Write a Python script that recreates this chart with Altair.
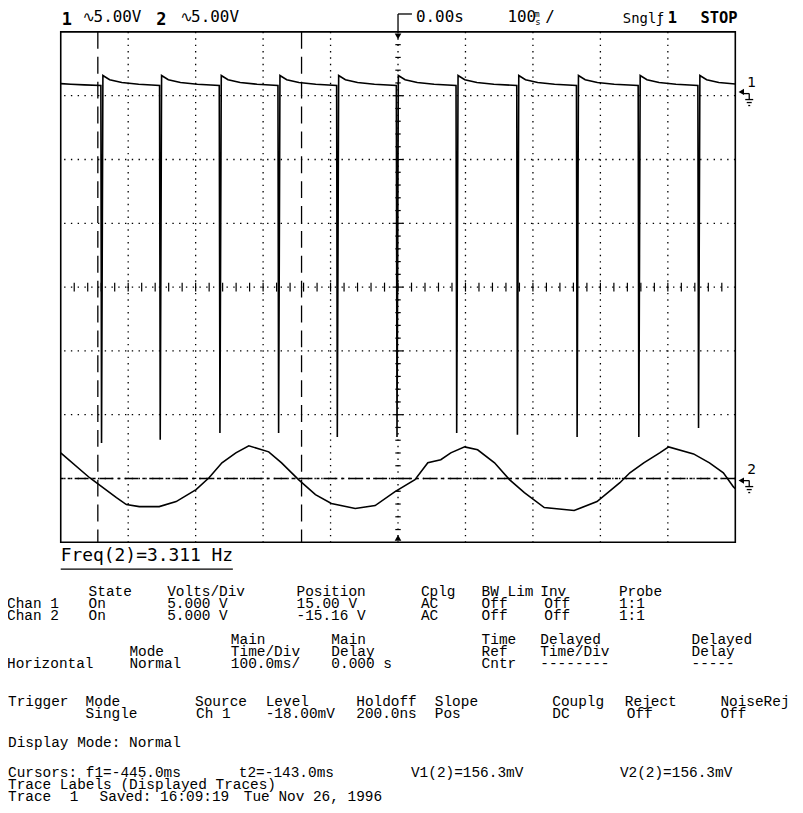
import altair as alt
import pandas as pd
import numpy as np

# ---------------- data (time in ms, screen volts; 5 V/div, 100 ms/div) ----------------
ch1_t = [-500, -485, -465, -440.5,
         -439.5, -437.5, -427.5, -409.5, -384.5, -353.5,
         -352.5, -350.5, -340.5, -322.5, -297.5, -265.0,
         -264.0, -262.0, -252.0, -234.0, -209.0, -178.0,
         -177.0, -175.0, -165.0, -147.0, -122.0, -91.0,
         -90.0, -88.0, -78.0, -60.0, -35.0, -2.5,
         -1.5, 0.5, 10.5, 28.5, 53.5, 86.0,
         87.0, 89.0, 99.0, 117.0, 142.0, 176.0,
         177.0, 179.0, 189.0, 207.0, 232.0, 264.5,
         265.5, 267.5, 277.5, 295.5, 320.5, 356.0,
         357.0, 359.0, 369.0, 387.0, 412.0, 444.5,
         445.5, 447.5, 457.5, 475.5, 500.0]
ch1_v = [15.95, 15.90, 15.85, 15.80,
         -12.21, 16.58, 16.25, 16.03, 15.90, 15.80,
         -11.97, 16.58, 16.25, 16.03, 15.90, 15.80,
         -11.43, 16.58, 16.25, 16.03, 15.90, 15.80,
         -11.43, 16.58, 16.25, 16.03, 15.90, 15.80,
         -11.74, 16.58, 16.25, 16.03, 15.90, 15.80,
         -11.74, 16.58, 16.25, 16.03, 15.90, 15.80,
         -11.43, 16.58, 16.25, 16.03, 15.90, 15.80,
         -11.58, 16.58, 16.25, 16.03, 15.90, 15.80,
         -11.74, 16.58, 16.25, 16.03, 15.90, 15.80,
         -11.74, 16.58, 16.25, 16.03, 15.90, 15.80,
         -11.04, 16.58, 16.25, 16.03, 15.92]

ch2_t = [-500, -457.2, -417.4, -402.7, -383.5, -354, -328.9, -299.4, -280.2, -261,
         -240.4, -221.2, -191.7, -172.6, -147.5, -122.4, -98.8, -63.4, -33.9, -4.4,
         25.1, 44.2, 63.4, 78.2, 98.8, 118, 143.1, 165.2, 187.3, 216.8,
         261.1, 295, 328.9, 343.7, 364.3, 387.9, 401.2, 438.1, 461.7, 482.3, 497, 500]
ch2_v = [-12.99, -14.94, -16.50, -17.04, -17.2, -17.2, -16.81, -15.87, -14.94, -13.77,
         -12.99, -12.44, -12.91, -13.77, -15.09, -16.26, -16.96, -17.35, -17.12, -16.03,
         -15.09, -13.77, -13.53, -12.99, -12.52, -12.75, -13.77, -15.09, -16.11, -17.28,
         -17.51, -16.81, -15.33, -14.55, -13.77, -12.99, -12.52, -13.07, -13.77, -14.55, -15.64, -15.8]

grid_t = [-400, -300, -200, -100, 0, 100, 200, 300, 400]
grid_v = [-15, -10, -5, 0, 5, 10, 15]
cursor_t = [-445.0, -143.0]
cursor_v = [-15.0]
ref_v = [15.3, -15.16]

W, H = 678, 513
OX, OY = 61, 30  # page position of plot area

xs = alt.Scale(domain=[-500, 500], nice=False, zero=False)
ys = alt.Scale(domain=[-20, 20], nice=False, zero=False)

def X(f):
    return alt.X(f, type="quantitative", scale=xs, axis=None)

def Y(f):
    return alt.Y(f, type="quantitative", scale=ys, axis=None)

layers = []

# grid
layers.append(alt.Chart(pd.DataFrame({"t": grid_t})).mark_rule(
    color="black", strokeWidth=1.3, strokeDash=[1.4, 5.0]).encode(x=X("t")))
layers.append(alt.Chart(pd.DataFrame({"v": grid_v})).mark_rule(
    color="black", strokeWidth=1.3, strokeDash=[1.4, 5.4]).encode(y=Y("v")))

# center axis ticks
xt = np.arange(-480, 481, 20)
layers.append(alt.Chart(pd.DataFrame({"t": xt, "a": -0.35, "b": 0.35})).mark_rule(
    color="black", strokeWidth=1.2).encode(x=X("t"), y=Y("a"), y2="b"))
yt = np.arange(-19, 20, 1)
half = np.where(yt % 5 == 0, 8.0, 4.0)
layers.append(alt.Chart(pd.DataFrame({"v": yt, "a": -half, "b": half})).mark_rule(
    color="black", strokeWidth=1.2).encode(y=Y("v"), x=X("a"), x2="b"))

# cursors
layers.append(alt.Chart(pd.DataFrame({"t": cursor_t})).mark_rule(
    color="black", strokeWidth=1.3, strokeDash=[17, 8]).encode(x=X("t")))
layers.append(alt.Chart(pd.DataFrame({"v": cursor_v})).mark_rule(
    color="black", strokeWidth=1.3, strokeDash=[14, 4, 3, 4]).encode(y=Y("v")))

# traces
d1 = pd.DataFrame({"t": ch1_t, "v": ch1_v, "i": range(len(ch1_t))})
layers.append(alt.Chart(d1).mark_line(color="black", strokeWidth=1.6).encode(
    x=X("t"), y=Y("v"), order="i:Q"))
d2 = pd.DataFrame({"t": ch2_t, "v": ch2_v, "i": range(len(ch2_t))})
layers.append(alt.Chart(d2).mark_line(color="black", strokeWidth=1.6).encode(
    x=X("t"), y=Y("v"), order="i:Q"))

# trigger position markers
layers.append(alt.Chart(pd.DataFrame({"t": [0, 0], "v": [19.65, -19.65],
                                      "s": ["triangle-down", "triangle-up"]})).mark_point(
    filled=True, color="black", size=45, opacity=1).encode(
    x=X("t"), y=Y("v"), shape=alt.Shape("s:N", scale=None)))

# channel reference markers on the right
layers.append(alt.Chart(pd.DataFrame({"v": ref_v})).mark_point(
    shape="triangle-left", filled=True, color="black", size=40, opacity=1).encode(
    x=alt.value(745 - OX), y=Y("v")))

# ---------------- pixel annotations ----------------
def px_text(items, font, size, weight="normal"):
    df = pd.DataFrame(items, columns=["txt", "px", "py"])
    df["px"] = df["px"] - OX
    df["py"] = df["py"] - OY
    return alt.Chart(df).mark_text(align="left", baseline="alphabetic", font=font,
                                   fontSize=size, fontWeight=weight, color="black").encode(
        x=alt.X("px:Q", scale=None, axis=None), y=alt.Y("py:Q", scale=None, axis=None),
        text="txt:N")

def px_rules(segs, width=1.3):
    df = pd.DataFrame(segs, columns=["x1", "y1", "x2", "y2"])
    df[["x1", "x2"]] = df[["x1", "x2"]] - OX
    df[["y1", "y2"]] = df[["y1", "y2"]] - OY
    return alt.Chart(df).mark_rule(color="black", strokeWidth=width).encode(
        x=alt.X("x1:Q", scale=None, axis=None), x2="x2:Q",
        y=alt.Y("y1:Q", scale=None, axis=None), y2="y2:Q")

MONO_HDR = "DejaVu Sans Mono"
header_reg = [("5.00V", 94, 20), ("5.00V", 192, 20), ("0.00s", 418, 20),
              ("100", 510, 20), ("/", 548, 20)]
header_bold_l = [("1", 62, 23), ("2", 157, 23)]
header_bold_r = [("1", 671, 21), ("STOP", 704, 21)]
header_sym = [("∿", 83, 20), ("∿", 181, 20), ("ƒ", 661, 21)]
header_small = [("m", 537, 15), ("s", 538, 23)]
header_sngl = [("Sngl", 626, 21)]

layers.append(px_text(header_reg, MONO_HDR, 16))
layers.append(px_text(header_bold_l, MONO_HDR, 17, "bold"))
layers.append(px_text(header_bold_r, MONO_HDR, 15.5, "bold"))
layers.append(px_text(header_sym, "DejaVu Sans", 15))
layers.append(px_text(header_small, MONO_HDR, 9))
layers.append(px_text(header_sngl, MONO_HDR, 14))
layers.append(px_text([("Freq(2)=3.311 Hz", 61, 562)], MONO_HDR, 18))
layers.append(px_text([("1", 751, 85), ("2", 751, 474)], "DejaVu Sans", 14))

decor = [
    (61, 570, 234, 570),              # Freq underline
    (400, 12, 400, 29), (400, 12, 414, 12),   # trigger hook
    (747, 92, 753, 92), (753, 92, 753, 98),
    (749, 98, 757, 98), (750.5, 101, 755.5, 101), (752, 104, 754, 104),
    (747, 481, 753, 481), (753, 481, 753, 487),
    (749, 487, 757, 487), (750.5, 490, 755.5, 490), (752, 493, 754, 493),
]
layers.append(px_rules(decor))

PANEL = "Liberation Mono"
upper = [
    ("State", 89, 597), ("Volts/Div", 168, 597), ("Position", 298, 597), ("Cplg", 423, 597),
    ("BW Lim", 484, 597), ("Inv", 543, 597), ("Probe", 622, 597),
    ("Chan 1", 7, 609), ("On", 89, 609), ("5.000 V", 168, 609), ("15.00 V", 298, 609),
    ("AC", 423, 609), ("Off", 484, 609), ("Off", 547, 609), ("1:1", 622, 609),
    ("Chan 2", 7, 621), ("On", 89, 621), ("5.000 V", 168, 621), ("-15.16 V", 298, 621),
    ("AC", 423, 621), ("Off", 484, 621), ("Off", 547, 621), ("1:1", 622, 621),
    ("Main", 232, 645), ("Main", 333, 645), ("Time", 484, 645), ("Delayed", 543, 645),
    ("Delayed", 695, 645),
    ("Mode", 130, 657), ("Time/Div", 232, 657), ("Delay", 333, 657), ("Ref", 484, 657),
    ("Time/Div", 543, 657), ("Delay", 695, 657),
    ("Horizontal", 7, 669), ("Normal", 130, 669), ("100.0ms/", 232, 669), ("0.000 s", 333, 669),
    ("Cntr", 484, 669), ("--------", 543, 669), ("-----", 695, 669),
]
lower = [
    ("Trigger", 8, 708), ("Mode", 86, 708), ("Source", 196, 708), ("Level", 267, 708),
    ("Holdoff", 358, 708), ("Slope", 437, 708), ("Couplg", 555, 708), ("Reject", 628, 708),
    ("NoiseRej", 724, 708),
    ("Single", 86, 720), ("Ch 1", 197, 720), ("-18.00mV", 267, 720), ("200.0ns", 358, 720),
    ("Pos", 437, 720), ("DC", 555, 720), ("Off", 630, 720), ("Off", 724, 720),
    ("Display Mode: Normal", 8, 749),
    ("Cursors: f1=-445.0ms", 8, 779), ("t2=-143.0ms", 240, 779), ("V1(2)=156.3mV", 413, 779),
    ("V2(2)=156.3mV", 623, 779),
    ("Trace Labels (Displayed Traces)", 8, 791),
    ("Trace", 8, 803), ("1", 70, 803), ("Saved: 16:09:19", 100, 803), ("Tue Nov 26, 1996", 245, 803),
]
layers.append(px_text(upper, PANEL, 14.5))
layers.append(px_text(lower, PANEL, 14.5))

chart = alt.layer(*layers).resolve_scale(x="independent", y="independent").properties(
    width=W, height=H,
    autosize=alt.AutoSizeParams(type="none"),
    padding={"left": 53, "top": 22, "right": 60, "bottom": 262},
    background="white",
).configure_view(stroke="black", strokeWidth=1.6)

chart.save("out.html", embed_options={"renderer": "svg", "actions": False})
